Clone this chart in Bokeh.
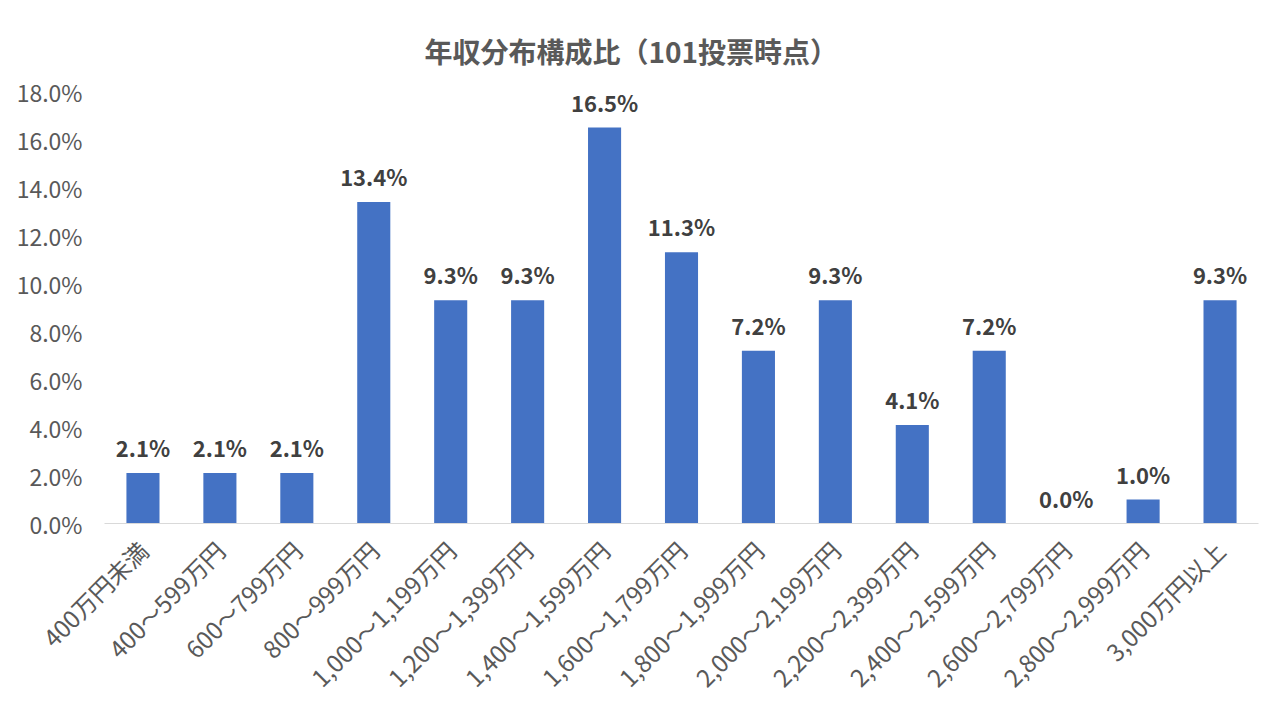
import math
from bokeh.plotting import figure
from bokeh.models import ColumnDataSource, FactorRange, Range1d, FixedTicker, PrintfTickFormatter
from bokeh.core.properties import value
from bokeh.embed import file_html
from bokeh.resources import INLINE

categories = ["400万円未満", "400～599万円", "600～799万円", "800～999万円",
              "1,000～1,199万円", "1,200～1,399万円", "1,400～1,599万円", "1,600～1,799万円",
              "1,800～1,999万円", "2,000～2,199万円", "2,200～2,399万円", "2,400～2,599万円",
              "2,600～2,799万円", "2,800～2,999万円", "3,000万円以上"]
shares = [2.1, 2.1, 2.1, 13.4, 9.3, 9.3, 16.5, 11.3, 7.2, 9.3, 4.1, 7.2, 0.0, 1.0, 9.3]
y_ticks = [0, 2, 4, 6, 8, 10, 12, 14, 16, 18]
title_text = "年収分布構成比（101投票時点）"

FONT = "Noto Sans CJK JP"

src = ColumnDataSource(dict(cat=categories, val=shares,
                            lab=[f"{v:.1f}%" for v in shares]))

p = figure(width=1280, height=720, output_backend="svg", toolbar_location=None,
           x_range=FactorRange(factors=categories, range_padding=0),
           y_range=Range1d(0, 18),
           min_border_left=104, min_border_right=22, min_border_top=91, min_border_bottom=197)

p.title.text = title_text
p.title.align = "left"
p.title.offset = 320
p.title.text_font = FONT
p.title.text_font_size = "28px"
p.title.text_font_style = "bold"
p.title.text_color = "#595959"
p.title.standoff = 42

p.vbar(x="cat", top="val", width=0.43, source=src, color="#4472C4", line_color=None)
p.text(x="cat", y="val", text="lab", source=src, text_align="center", text_baseline="middle",
       y_offset=-26, text_font=value(FONT), text_font_size="22px", text_font_style="bold",
       text_color="#404040")

p.outline_line_color = None
p.xgrid.grid_line_color = None
p.ygrid.grid_line_color = None
p.background_fill_color = "white"
p.border_fill_color = "white"

p.yaxis.ticker = FixedTicker(ticks=y_ticks)
p.yaxis.formatter = PrintfTickFormatter(format="%.1f%%")
p.yaxis.axis_line_color = None
p.yaxis.major_tick_line_color = None
p.yaxis.minor_tick_line_color = None
p.yaxis.major_label_text_font = FONT
p.yaxis.major_label_text_font_size = "23px"
p.yaxis.major_label_text_color = "#595959"
p.yaxis.major_label_standoff = 16

p.xaxis.axis_line_color = "#D9D9D9"
p.xaxis.axis_line_width = 1
p.xaxis.major_tick_line_color = None
p.xaxis.minor_tick_line_color = None
p.xaxis.major_label_orientation = math.pi / 4
p.xaxis.major_label_text_font = FONT
p.xaxis.major_label_text_font_size = "24px"
p.xaxis.major_label_text_color = "#595959"
p.xaxis.major_label_standoff = 16

with open("out.html", "w") as f:
    f.write(file_html(p, INLINE))
